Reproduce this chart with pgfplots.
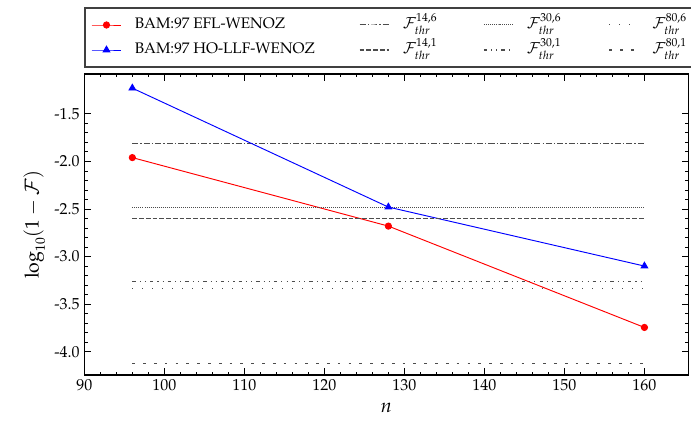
\documentclass[border=0pt]{standalone}
\usepackage[T1]{fontenc}
\usepackage{mathpazo}
\usepackage{pgfplots}
\pgfplotsset{compat=1.18}

\pgfplotstableread{
n   efl     hollf
96  -1.96   -1.23
128 -2.68   -2.48
160 -3.745  -3.10
}\bamdata

\pgfplotsset{
  thr/.style={black!70, line width=0.75pt},
  legend image code/.code={%
    \draw[mark repeat=2,mark phase=2,#1]
      plot coordinates {(0pt,0pt) (11pt,0pt) (22pt,0pt)};},
}
\newcommand{\tickfont}{\fontsize{11.8}{14}\selectfont}
\newcommand{\legfont}{\fontsize{11.3}{14}\selectfont}

\begin{document}
\begin{tikzpicture}
\begin{axis}[
    scale only axis,
    width=447pt, height=222.7pt,
    xmin=90, xmax=165.5,
    ymin=-4.245, ymax=-1.082,
    xtick={90,100,...,160},
    ytick={-4,-3.5,...,-1.5},
    minor x tick num=4,
    minor y tick num=4,
    tick align=inside,
    major tick length=5pt,
    minor tick length=2.5pt,
    axis line style={line width=0.9pt},
    every tick/.style={black, line width=0.6pt},
    tick label style={font=\tickfont},
    yticklabel style={/pgf/number format/.cd, fixed, fixed zerofill, precision=1},
    /pgf/number format/assume math mode=true,
    xlabel={$n$},
    ylabel={$\log_{10}(1-\mathcal{F})$},
    label style={font=\Large},
    xlabel style={yshift=-2pt},
    legend columns=4,
    legend style={
      at={(0,1)}, anchor=south west, yshift=4.4pt,
      draw=black!75, line width=1.3pt,
      font=\legfont,
      inner xsep=4.4pt, inner ysep=3.5pt,
      nodes={inner sep=0pt, text height=12pt, text depth=6.5pt},
      /tikz/every odd column/.style={column sep=9.6pt},
      /tikz/every even column/.style={column sep=0pt},
    },
]
\addplot[red, line width=0.7pt, mark=*, mark size=2.3pt] table[x=n, y=efl] {\bamdata};
\addlegendentry{\makebox[166pt][l]{BAM:97\ EFL-WENOZ}}
\addplot[thr, dash pattern=on 4.5pt off 1.5pt on 1pt off 1.5pt] coordinates {(96,-1.816) (160,-1.816)};
\addlegendentry{\makebox[59.5pt][l]{$\mathcal{F}^{14,6}_{thr}$}}
\addplot[thr, dash pattern=on 0.6pt off 0.9pt] coordinates {(96,-2.482) (160,-2.482)};
\addlegendentry{\makebox[60.5pt][l]{$\mathcal{F}^{30,6}_{thr}$}}
\addplot[thr, dash pattern=on 0.8pt off 6.6pt] coordinates {(96,-3.335) (160,-3.335)};
\addlegendentry{\makebox[26pt][l]{$\mathcal{F}^{80,6}_{thr}$}}
\addplot[blue, line width=0.7pt, mark=triangle*, mark size=2.8pt] table[x=n, y=hollf] {\bamdata};
\addlegendentry{\makebox[166pt][l]{BAM:97\ HO-LLF-WENOZ}}
\addplot[thr, dash pattern=on 3.5pt off 1.5pt] coordinates {(96,-2.598) (160,-2.598)};
\addlegendentry{\makebox[59.5pt][l]{$\mathcal{F}^{14,1}_{thr}$}}
\addplot[thr, dash pattern=on 2.5pt off 3pt on 0.8pt off 3pt on 0.8pt off 3pt] coordinates {(96,-3.258) (160,-3.258)};
\addlegendentry{\makebox[60.5pt][l]{$\mathcal{F}^{30,1}_{thr}$}}
\addplot[thr, dash pattern=on 2pt off 6pt] coordinates {(96,-4.124) (160,-4.124)};
\addlegendentry{\makebox[26pt][l]{$\mathcal{F}^{80,1}_{thr}$}}
\end{axis}
\pgfresetboundingbox
\path (current axis.south west) ++(-62.4pt,-37.7pt) rectangle ++(511.3pt,315.2pt);
\end{tikzpicture}
\end{document}
